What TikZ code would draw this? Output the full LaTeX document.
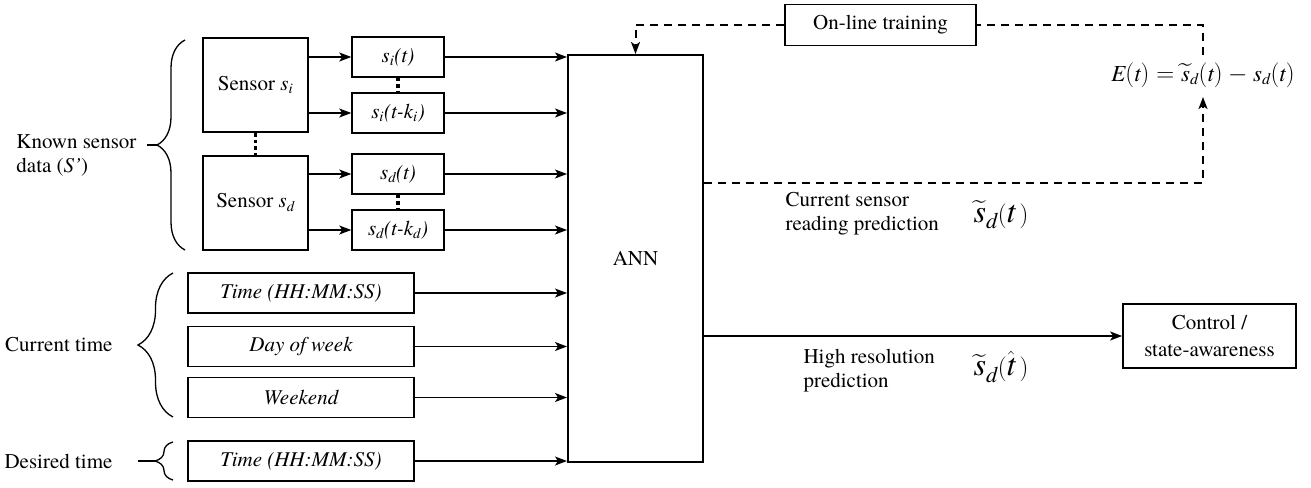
\documentclass[tikz,border=0pt]{standalone}
\usepackage{amsmath}
\usepackage{fontspec}
\setmainfont{texgyretermes}[Extension=.otf,UprightFont=*-regular,ItalicFont=*-italic,BoldFont=*-bold,BoldItalicFont=*-bolditalic]
\usetikzlibrary{arrows.meta,decorations.pathreplacing}
% italic letters taken from the text font, for use inside formulas
\newcommand{\vi}[1]{\text{\itshape #1}}

\begin{document}
\begin{tikzpicture}[x=1pt,y=-1pt,
  every node/.style={font=\fontsize{21}{24}\selectfont},
  sensorbox/.style={draw,line width=2pt,minimum width=105pt,minimum height=94pt,inner sep=0pt},
  delaybox/.style={draw,line width=1.5pt,minimum width=92pt,minimum height=40pt,inner sep=0pt,font=\fontsize{21}{24}\selectfont\itshape},
  timebox/.style={draw,line width=1.5pt,minimum width=226pt,minimum height=40pt,inner sep=0pt,font=\fontsize{21}{24}\selectfont\itshape},
  plainbox/.style={draw,line width=1.8pt,inner sep=0pt,align=center},
  flow/.style={line width=1.3pt,-{Stealth[length=12pt,width=9pt,inset=3pt]}},
  fb/.style={line width=2pt,dash pattern=on 8pt off 6pt},
  fbarrow/.style={fb,-{Stealth[length=12pt,width=9pt,inset=3pt]}},
  dots/.style={line width=3.5pt,dash pattern=on 3.5pt off 3pt},
  brc/.style={decorate,decoration={brace,amplitude=#1},line width=1.3pt},
  lbl/.style={align=left,font=\fontsize{21}{24}\selectfont},
  bigsym/.style={font=\fontsize{32}{34}\selectfont,inner sep=0pt}
]
\useasboundingbox (0,0) rectangle (1311,487);

% sensors and their delayed readings
\node[sensorbox] (sI) at (255.5,85) {Sensor $\vi{s}_{\vi{i}}$};
\node[sensorbox] (sD) at (255.5,202.5) {Sensor $\vi{s}_{\vi{d}}$};
\draw[dots] (sI.south) -- (sD.north);

\node[delaybox] (siT)  at (398,57)  {s\textsubscript{i}(t)};
\node[delaybox] (siTk) at (398,113) {s\textsubscript{i}(t-k\textsubscript{i})};
\node[delaybox] (sdT)  at (398,174) {s\textsubscript{d}(t)};
\node[delaybox] (sdTk) at (398,230) {s\textsubscript{d}(t-k\textsubscript{d})};
\draw[dots] (siT.south) -- (siTk.north);
\draw[dots] (sdT.south) -- (sdTk.north);

% time inputs
\node[timebox] (tNow)  at (301,293) {Time (HH:MM:SS)};
\node[timebox] (tDay)  at (301,346.5) {Day of week};
\node[timebox] (tWknd) at (301,397.5) {Weekend};
\node[timebox] (tDes)  at (301,461) {Time (HH:MM:SS)};

% network
\node[draw,line width=2pt,minimum width=135pt,minimum height=407pt,inner sep=0pt] (ANN) at (635.5,258.5) {ANN};

% sensor -> delayed readings
\draw[flow] (sI.east |- siT) -- (siT.west);
\draw[flow] (sI.east |- siTk) -- (siTk.west);
\draw[flow] (sD.east |- sdT) -- (sdT.west);
\draw[flow] (sD.east |- sdTk) -- (sdTk.west);

% inputs -> ANN
\foreach \n in {siT,siTk,sdT,sdTk,tNow,tDay,tWknd,tDes}
  \draw[flow] (\n.east) -- (ANN.west |- \n);

% input group braces
\draw[brc=28pt] (185,250) -- (185,40);
\coordinate (kTip) at (157,145);
\draw[line width=1.3pt] (147,145) -- (kTip);
\node[lbl,anchor=east] (kLbl) at (140,155) {Known sensor\\data (\textit{S’})};

\draw[brc=35pt] (173,417) -- (173,273);
\node[lbl,anchor=east] (cLbl) at (116,345) {Current time};

\draw[brc=18pt] (173,480) -- (173,442);
\coordinate (dTip) at (155,461);
\draw[line width=1.3pt] (138,461) -- (dTip);
\node[lbl,anchor=east] (dLbl) at (116,461) {Desired time};

% outputs
\node[plainbox,minimum width=173pt,minimum height=64pt,font=\fontsize{21}{27}\selectfont] (ctrl) at (1209.5,336) {Control /\\state-awareness};
\draw[flow] (ANN.east |- ctrl) -- (ctrl.west);

\node[lbl,anchor=west] (hrLbl) at (800,371) {High resolution\\prediction};
\node[bigsym] (hrSym) at (1001,367) {$\widetilde{\vi{s}}_{\vi{d}}(\hat{\vi{t}}\,)$};

\node[lbl,anchor=west] (crLbl) at (782,214) {Current sensor\\reading prediction};
\node[bigsym] (crSym) at (1001,215) {$\widetilde{\vi{s}}_{\vi{d}}(\vi{t}\,)$};

% on-line training loop
\node[plainbox,minimum width=191pt,minimum height=41pt] (train) at (880.5,25) {On-line training};
\node[font=\fontsize{23}{26}\selectfont,inner sep=0pt] (err) at (1203,75) {$\vi{E}(\vi{t})=\widetilde{\vi{s}}_{\vi{d}}(\vi{t})-\vi{s}_{\vi{d}}(\vi{t})$};
\coordinate (errLow) at (1203,97);
\coordinate (errHigh) at (1203,55);
\coordinate (cornerBR) at (1203,183);
\coordinate (cornerTR) at (1203,25);

\draw[fbarrow] (ANN.east |- cornerBR) -- (cornerBR) -- (errLow);
\draw[fb] (errHigh) -- (cornerTR) -- (train.east);
\draw[fbarrow] (train.west) -| (ANN.north);
\end{tikzpicture}
\end{document}
